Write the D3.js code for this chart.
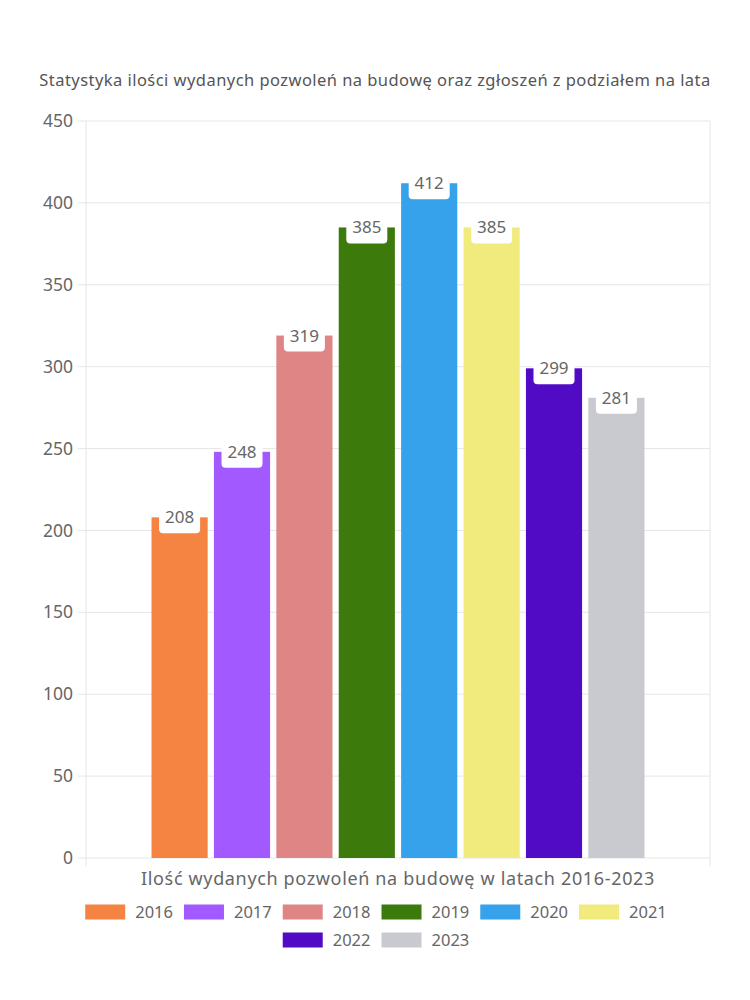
<!DOCTYPE html>
<html lang="pl">
<head>
<meta charset="UTF-8">
<title>Pozwolenia na budowę</title>
<style>
    body { margin: 0; background: #fff; }
    svg { display: block; font-family: "Noto Sans", sans-serif; }
    .grid line { stroke: #e6e6e6; }
    .tick text { fill: #666; }
</style>
</head>
<body>
<svg id="chart"></svg>
<script src="https://cdnjs.cloudflare.com/ajax/libs/d3/7.9.0/d3.min.js"></script>
<script>
    // data
    const years = ["2016", "2017", "2018", "2019", "2020", "2021", "2022", "2023"];
    const values = [208, 248, 319, 385, 412, 385, 299, 281];
    const colors = ["#f58442", "#a259ff", "#e08585", "#3d7a0c", "#36a2eb", "#f0eb7c", "#520bc4", "#c9cacf"];
    const yTicks = [0, 50, 100, 150, 200, 250, 300, 350, 400, 450];
    const category = ["Ilość wydanych pozwoleń na budowę w latach 2016-2023"];
    const title = "Statystyka ilości wydanych pozwoleń na budowę oraz zgłoszeń z podziałem na lata";

    const w = 750, h = 1000;
    const plotL = 86, plotR = 710, plotT = 121, plotB = 858;

    const svg = d3.select("#chart").attr("width", w).attr("height", h);

    const y = d3.scaleLinear().domain([0, 450]).range([plotB, plotT]);
    const x0 = d3.scaleBand().domain(category).range([plotL, plotR]).paddingInner(0).paddingOuter(0.125);
    const x1 = d3.scaleBand().domain(years).range([0, x0.bandwidth()]).paddingInner(0.1).paddingOuter(0.05);

    // title
    svg.append("text")
        .attr("x", w / 2).attr("y", 86)
        .attr("text-anchor", "middle")
        .attr("font-size", 16.5)
        .attr("letter-spacing", 0.45)
        .attr("fill", "#555")
        .text(title);

    // horizontal grid
    svg.append("g").attr("class", "grid")
        .selectAll("line").data(yTicks).enter().append("line")
        .attr("x1", plotL - 8).attr("x2", plotR)
        .attr("y1", d => y(d)).attr("y2", d => y(d));

    // vertical grid at the chart edges
    svg.append("g").attr("class", "grid")
        .selectAll("line").data([plotL, plotR]).enter().append("line")
        .attr("x1", d => d).attr("x2", d => d)
        .attr("y1", plotT).attr("y2", plotB + 8);

    // y axis
    const yAxis = d3.axisLeft(y).tickValues(yTicks).tickSize(0).tickPadding(13);
    svg.append("g")
        .attr("transform", "translate(" + plotL + ",0)")
        .call(yAxis)
        .call(g => g.select(".domain").remove())
        .selectAll("text")
        .attr("font-size", 17.5)
        .attr("font-family", "Noto Sans, sans-serif");

    // x axis label
    svg.append("g")
        .attr("transform", "translate(0," + plotB + ")")
        .call(d3.axisBottom(x0).tickSize(0).tickPadding(14))
        .call(g => g.select(".domain").remove())
        .selectAll("text")
        .attr("font-size", 18)
        .attr("letter-spacing", 0.65)
        .attr("font-family", "Noto Sans, sans-serif");

    // bars
    const gBars = svg.append("g").attr("transform", "translate(" + x0(category[0]) + ",0)");
    gBars.selectAll("rect").data(years).enter().append("rect")
        .attr("x", d => x1(d))
        .attr("width", x1.bandwidth())
        .attr("y", (d, i) => y(values[i]))
        .attr("height", (d, i) => plotB - y(values[i]))
        .attr("fill", (d, i) => colors[i]);

    // value labels
    const labels = gBars.selectAll(".lbl").data(years).enter().append("g")
        .attr("class", "lbl")
        .attr("transform", (d, i) => "translate(" + (x1(d) + x1.bandwidth() / 2) + "," + y(values[i]) + ")");
    labels.append("rect")
        .attr("x", -20.5).attr("y", -14)
        .attr("width", 41).attr("height", 30)
        .attr("rx", 4)
        .attr("fill", "#fff");
    labels.append("text")
        .attr("text-anchor", "middle")
        .attr("y", 6)
        .attr("font-size", 17)
        .attr("fill", "#666")
        .text((d, i) => values[i]);

    // legend
    const rows = [years.slice(0, 6), years.slice(6)];
    const boxW = 40, boxH = 15, gap = 10, itemPad = 11;
    const tmp = svg.append("text").attr("font-size", 16.5);
    const textW = t => { tmp.text(t); return tmp.node().getComputedTextLength(); };
    rows.forEach((row, r) => {
        const widths = row.map(t => boxW + gap + textW(t));
        const total = d3.sum(widths) + itemPad * (row.length - 1);
        let cx = w / 2 + 1 - total / 2;
        const cy = 912 + r * 28;
        row.forEach((t, i) => {
            const k = years.indexOf(t);
            svg.append("rect")
                .attr("x", cx).attr("y", cy - boxH / 2)
                .attr("width", boxW).attr("height", boxH)
                .attr("fill", colors[k]);
            svg.append("text")
                .attr("x", cx + boxW + gap).attr("y", cy + 6)
                .attr("font-size", 16.5).attr("fill", "#666")
                .text(t);
            cx += widths[i] + itemPad;
        });
    });
    tmp.remove();
</script>
</body>
</html>
